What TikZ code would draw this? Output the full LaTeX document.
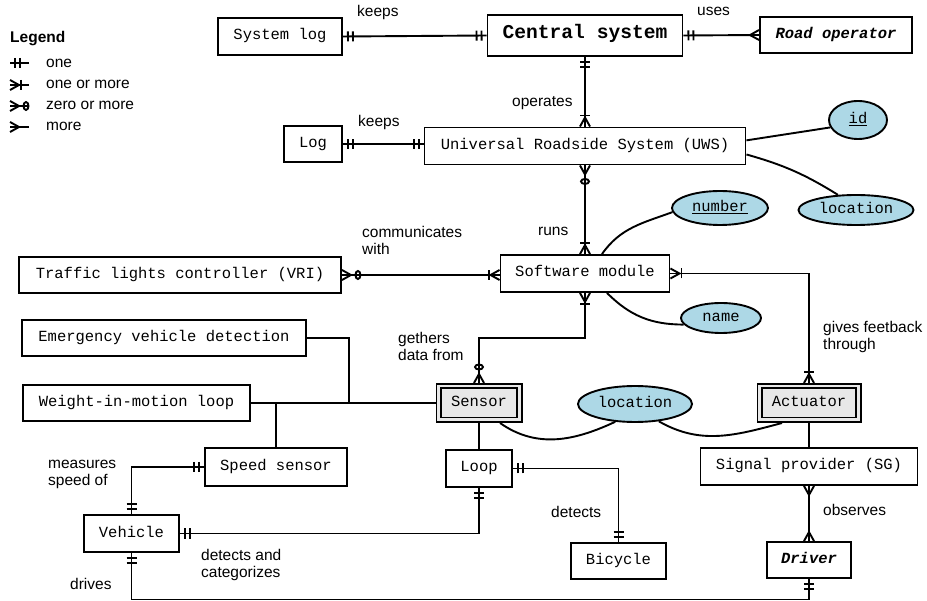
\documentclass[tikz,border=0pt]{standalone}
\usepackage{fontspec}
\setmainfont{Liberation Sans}
\newfontfamily\monofam{Liberation Mono}
\usetikzlibrary{shapes.geometric,decorations.markings}

\definecolor{attrblue}{RGB}{173,216,230}
\definecolor{weakgray}{RGB}{232,232,232}

\tikzset{
  lw/.style={line width=1.9pt},
  entity/.style={draw, lw, fill=white, inner sep=0pt,
    font=\monofam\fontsize{15.5}{18}\selectfont, text height=10pt, text depth=3pt},
  weak/.style={entity, fill=weakgray, double=weakgray, double distance=2.6pt, outer sep=3.2pt},
  attr/.style={entity, ellipse, fill=attrblue},
  lbl/.style={inner sep=0pt, anchor=north west, align=left,
    font=\fontsize{15.5}{17}\selectfont},
  link/.style={lw},
  % cardinality markers, drawn along the connector
  one start/.style={postaction={decorate,decoration={markings,
    mark=at position 5pt with {\draw[lw] (0,-5pt) -- (0,5pt);},
    mark=at position 10pt with {\draw[lw] (0,-5pt) -- (0,5pt);}}}},
  one end/.style={postaction={decorate,decoration={markings,
    mark=at position -5pt with {\draw[lw] (0,-5pt) -- (0,5pt);},
    mark=at position -10pt with {\draw[lw] (0,-5pt) -- (0,5pt);}}}},
  many start/.style={postaction={decorate,decoration={markings,
    mark=at position 0.01pt with {\draw[lw] (0,5pt) -- (9pt,0) -- (0,-5pt);}}}},
  many end/.style={postaction={decorate,decoration={markings,
    mark=at position -0.01pt with {\draw[lw] (0,5pt) -- (-9pt,0) -- (0,-5pt);}}}},
  onemany start/.style={many start, postaction={decorate,decoration={markings,
    mark=at position 11pt with {\draw[lw] (0,-5pt) -- (0,5pt);}}}},
  onemany end/.style={many end, postaction={decorate,decoration={markings,
    mark=at position -11pt with {\draw[lw] (0,-5pt) -- (0,5pt);}}}},
  zeromany start/.style={many start, postaction={decorate,decoration={markings,
    mark=at position 16pt with {\draw[lw] (0,0) ellipse [x radius=2.5pt, y radius=4pt];}}}},
  zeromany end/.style={many end, postaction={decorate,decoration={markings,
    mark=at position -16pt with {\draw[lw] (0,0) ellipse [x radius=2.5pt, y radius=4pt];}}}},
}

\begin{document}
\begin{tikzpicture}[x=1pt, y=1pt]
\fill[white] (0,0) rectangle (927,-601);
\useasboundingbox (0,0) rectangle (927,-601);

% ---------- legend ----------
\node[lbl, font=\bfseries\fontsize{15.5}{17}\selectfont] (legend) at (10,-31) {Legend};
\node[lbl] (lgone)  at (46,-59)  {one};
\node[lbl] (lgonem) at (46,-80)  {one or more};
\node[lbl] (lgzero) at (46,-101) {zero or more};
\node[lbl] (lgmore) at (46,-122) {more};
\coordinate (la1) at (29,-63);  \coordinate (lb1) at (10,-63);
\coordinate (la2) at (29,-85);  \coordinate (lb2) at (10,-85);
\coordinate (la3) at (29,-106); \coordinate (lb3) at (10,-106);
\coordinate (la4) at (29,-127); \coordinate (lb4) at (10,-127);
\draw[link, one end]      (la1) -- (lb1);
\draw[link, onemany end]  (la2) -- (lb2);
\draw[link, zeromany end] (la3) -- (lb3);
\draw[link, many end]     (la4) -- (lb4);

% ---------- entities ----------
\node[entity, minimum width=124, minimum height=37] (syslog) at (280,-36.5) {System log};
\node[entity, minimum width=195, minimum height=41,
      font=\monofam\bfseries\fontsize{19.6}{22}\selectfont] (central) at (585,-35.5) {Central system};
\node[entity, minimum width=152, minimum height=36,
      font=\monofam\bfseries\itshape\fontsize{15.5}{18}\selectfont] (road) at (836,-35) {Road operator};
\node[entity, minimum width=58, minimum height=36] (log) at (313,-144) {Log};
\node[entity, minimum width=321, minimum height=37] (uws) at (585,-146) {Universal Roadside System (UWS)};
\node[entity, minimum width=169, minimum height=37] (sw) at (585,-273.5) {Software module};
\node[entity, minimum width=322, minimum height=36] (vri) at (180,-275) {Traffic lights controller (VRI)};
\node[entity, minimum width=284, minimum height=36] (evd) at (164,-338) {Emergency vehicle detection};
\node[entity, minimum width=227, minimum height=36] (wim) at (136.5,-403) {Weight-in-motion loop};
\node[weak, minimum width=80.6, minimum height=33.6] (sensor) at (479,-403) {Sensor};
\node[weak, minimum width=98.6, minimum height=33.6] (actuator) at (809,-403) {Actuator};
\node[entity, minimum width=142, minimum height=38] (speed) at (276,-467) {Speed sensor};
\node[entity, minimum width=66, minimum height=37] (loop) at (479,-468.5) {Loop};
\node[entity, minimum width=217, minimum height=37] (sg) at (809,-466.5) {Signal provider (SG)};
\node[entity, minimum width=95, minimum height=37] (vehicle) at (131.5,-533.5) {Vehicle};
\node[entity, minimum width=95, minimum height=36] (bicycle) at (618.5,-561) {Bicycle};
\node[entity, minimum width=84, minimum height=36,
      font=\monofam\bfseries\itshape\fontsize{15.5}{18}\selectfont] (driver) at (809,-560) {Driver};

% ---------- attributes ----------
\node[attr, minimum width=58, minimum height=38] (id) at (858,-120) {\underline{id}};
\node[attr, minimum width=115, minimum height=30] (loc1) at (856,-210) {location};
\node[attr, minimum width=96, minimum height=34] (number) at (720,-208) {\underline{number}};
\node[attr, minimum width=80, minimum height=30] (name) at (721,-318) {name};
\node[attr, minimum width=114, minimum height=36] (loc2) at (635,-404) {location};

% ---------- relationships ----------
\draw[link, one start, one end] (syslog.east) -- (central.west);
\draw[link, one start, many end] (central.east) -- (road.west);
\draw[link, one start, onemany end] (central.south) -- (uws.north);
\draw[link, one start, one end] (log.east) -- (log.east -| uws.west);
\draw[link, zeromany start, onemany end] (uws.south) -- (sw.north);
\draw[link, zeromany start, onemany end] (vri.east) -- (vri.east -| sw.west);
\draw[link, onemany start, onemany end] (sw.east) -| (actuator.north);
\draw[link, onemany start, zeromany end] (sw.south) -- (sw.south |- 0,-338) -| (sensor.north);
\draw[link, one start, one end] (speed.west) -| (vehicle.north);
\draw[link, one start, one end] (loop.east) -| (bicycle.north);
\draw[link, one start, one end] (loop.south) |- (vehicle.east);
\draw[link, many start, many end] (sg.south) -- (driver.north);
\draw[link, one start, one end] (vehicle.south) -- (vehicle.south |- 0,-599.5) -| (driver.south);

% sensor specialisations
\coordinate (evdjoin) at (349,-403);
\draw[link] (wim.east) -- (sensor.west);
\draw[link] (evd.east) -| (evdjoin);
\draw[link] (speed.north) -- (speed.north |- wim.east);
\draw[link] (sensor.south) -- (loop.north);
\draw[link] (actuator.south) -- (sg.north);

% attribute links
\draw[link] (uws.2.5) -- (id.195);
\draw[link] (uws.-3) to[bend left=8] (loc1.140);
\draw[link] ([xshift=17pt]sw.north) to[out=55, in=200] (number.185);
\draw[link] ([xshift=22pt]sw.south) to[out=-45, in=180] (name.190);
\draw[link] ([xshift=21pt]sensor.south) to[out=-35, in=-155] (loc2.222);
\draw[link] (loc2.-36) to[out=-30, in=-165] ([xshift=-27pt]actuator.south);

% ---------- relationship labels ----------
\node[lbl] (tkeeps1) at (357,-5) {keeps};
\node[lbl] (tuses) at (697,-7) {uses};
\node[lbl] (toper) at (512,-96) {operates};
\node[lbl] (tkeeps2) at (358,-115) {keeps};
\node[lbl] (tcomm) at (362,-226) {communicates\\with};
\node[lbl] (truns) at (538,-227) {runs};
\node[lbl] (tgath) at (398,-332) {gethers\\data from};
\node[lbl] (tfeed) at (823,-321) {gives feetback\\through};
\node[lbl] (tmeas) at (48,-460) {measures\\speed of};
\node[lbl] (tdetc) at (201,-549) {detects and\\categorizes};
\node[lbl] (tdrive) at (70,-578) {drives};
\node[lbl] (tdet) at (551,-506) {detects};
\node[lbl] (tobs) at (823,-504) {observes};
\end{tikzpicture}
\end{document}
